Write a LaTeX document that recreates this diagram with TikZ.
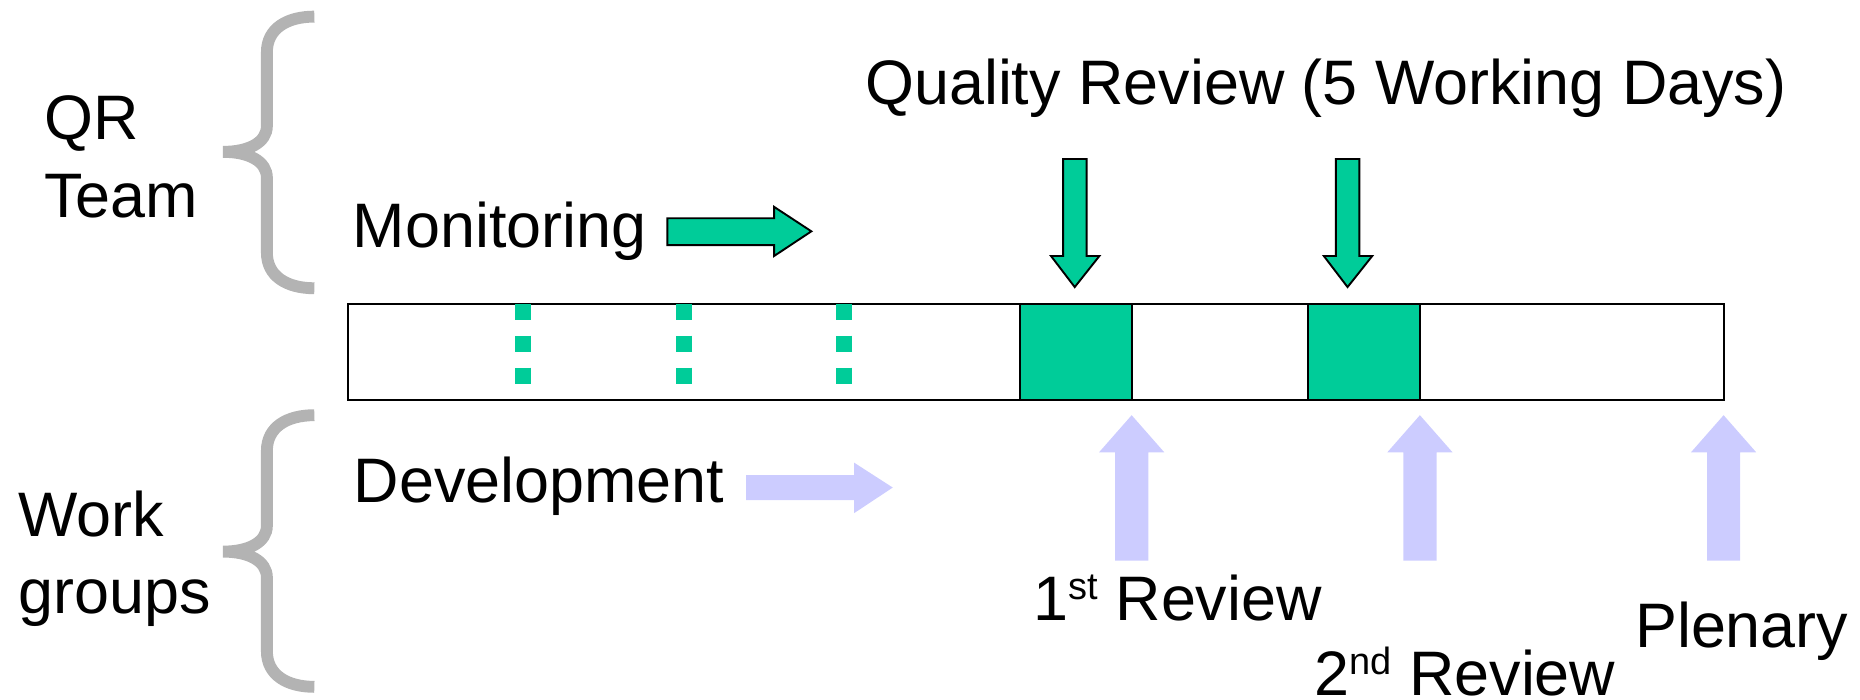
\documentclass[tikz,border=0pt]{standalone}
\usepackage{fontspec}
\setmainfont{Liberation Sans}
\definecolor{qgreen}{RGB}{0,204,153}
\definecolor{lav}{RGB}{204,204,255}
\definecolor{bgray}{RGB}{179,179,179}
\begin{document}
\begin{tikzpicture}[x=0.5pt,y=-0.5pt,
  lbl/.style={anchor=base west, inner sep=0pt, font=\fontsize{26.5}{30}\selectfont},
  bracestyle/.style={draw=bgray, line width=5pt},
  garrow/.style={fill=qgreen, draw=black, line width=0.8pt, line join=miter},
  larrow/.style={fill=lav, draw=none},
  dots/.style={qgreen, line width=6.8pt, dash pattern=on 6.75pt off 6.75pt},
  box/.style={draw=black, line width=0.9pt}]
\useasboundingbox (0,0) rectangle (1568,590);

% labels
\node[lbl] (qr) at (37,118) {QR};
\node[lbl] (team) at (37,183) {Team};
\node[lbl] (work) at (15,452) {Work};
\node[lbl] (groups) at (15,517) {groups};
\node[lbl] (mon) at (297,209) {Monitoring};
\node[lbl] (dev) at (298,424) {Development};
\node[lbl] (qrev) at (729,88.5) {Quality Review (5 Working Days)};
\node[lbl] (r1) at (871,522.7) {1\raisebox{8.5pt}{\fontsize{16}{18}\selectfont st} Review};
\node[lbl] (r2) at (1107.8,586) {2\raisebox{8.5pt}{\fontsize{16}{18}\selectfont nd} Review};
\node[lbl] (plen) at (1378,546) {Plenary};

% braces
\draw[bracestyle] (265,14) .. controls (242,14) and (225,24) .. (225,44) -- (225,106)
  .. controls (225,120) and (210,128) .. (188,128)
  .. controls (210,128) and (225,136) .. (225,150) -- (225,213)
  .. controls (225,233) and (242,243) .. (265,243);
\draw[bracestyle] (265,350) .. controls (242,350) and (225,360) .. (225,380) -- (225,443)
  .. controls (225,457) and (210,465) .. (188,465)
  .. controls (210,465) and (225,473) .. (225,487) -- (225,549)
  .. controls (225,569) and (242,579) .. (265,579);

% timeline bar
\draw[box, fill=white] (293,256) rectangle (1453,337);
\draw[box, fill=qgreen] (860,256) rectangle (954,337);
\draw[box, fill=qgreen] (1102.6,256) rectangle (1197,337);
\draw[box] (293,256) rectangle (1453,337);

% monitoring dots
\foreach \xx in {441,576.5,711.6}
  \draw[dots] (\xx,256) -- (\xx,324);

% monitoring arrow
\draw[garrow] (562.6,184) -- (652.6,184) -- (652.6,174.4) -- (684,195) -- (652.6,215.8)
  -- (652.6,206.6) -- (562.6,206.6) -- cycle;

% quality review down arrows
\foreach \xx in {906,1136}
  \draw[garrow] (\xx-9.8,134) -- (\xx+10,134) -- (\xx+10,215.8) -- (\xx+20.8,215.8)
    -- (\xx,242) -- (\xx-20,215.8) -- (\xx-9.8,215.8) -- cycle;

% development arrow
\fill[lav] (629,400.6) -- (720,400.6) -- (720,390) -- (752.6,411) -- (720,432.6)
  -- (720,421.7) -- (629,421.7) -- cycle;

% review up arrows
\foreach \xx in {954,1197,1453}
  \fill[lav] (\xx-14,472.6) -- (\xx-14,381.3) -- (\xx-27.5,381.3) -- (\xx,350)
    -- (\xx+27.5,381.3) -- (\xx+14,381.3) -- (\xx+14,472.6) -- cycle;
\end{tikzpicture}
\end{document}
